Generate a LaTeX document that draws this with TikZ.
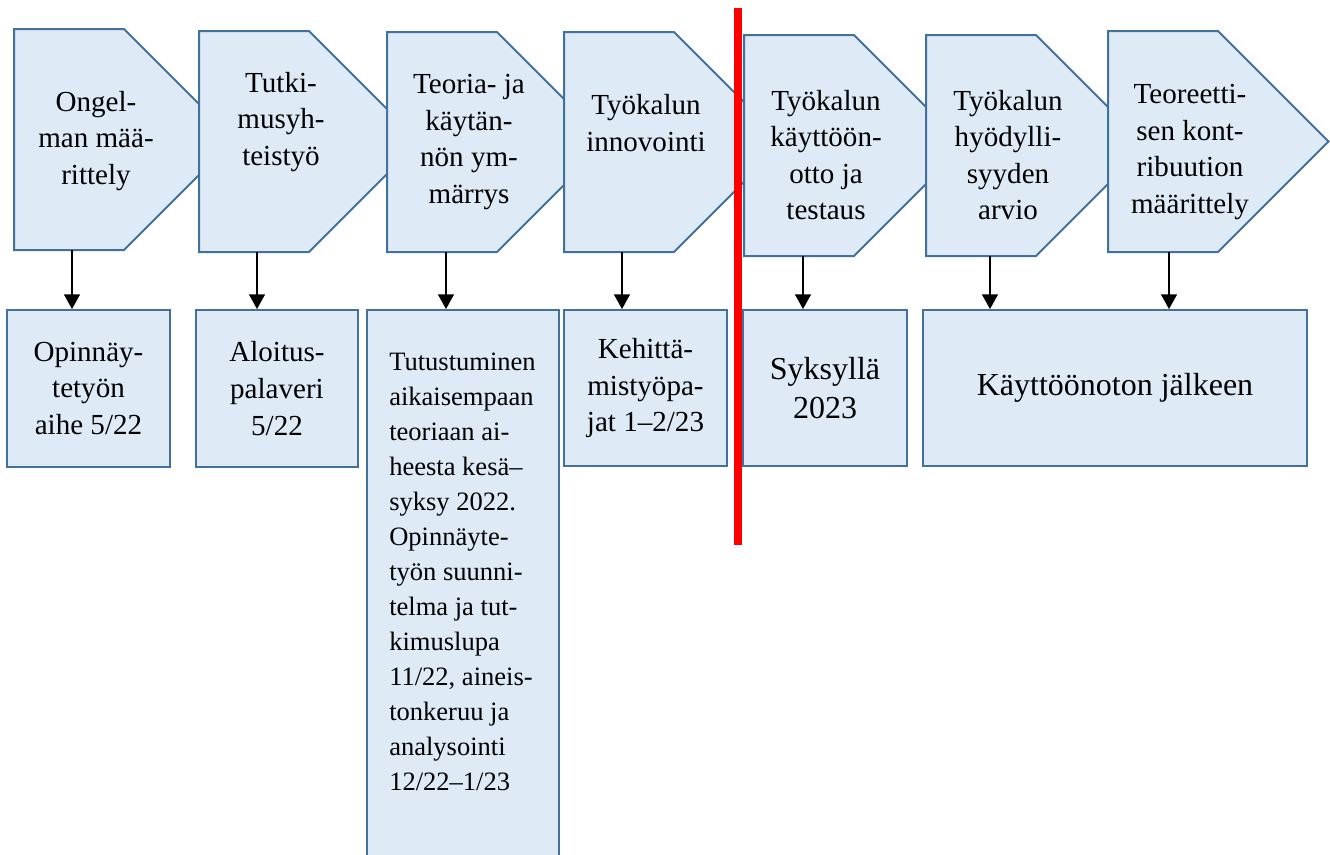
\documentclass[tikz,border=0pt]{standalone}
\usepackage{fontspec}
\setmainfont{Liberation Serif}
\usetikzlibrary{arrows.meta}
\definecolor{shfill}{HTML}{DEEBF7}
\definecolor{shdraw}{HTML}{41719C}
\definecolor{cutred}{HTML}{FF0000}
\newcommand\chev[4]{%
  \path[stepshape] (#2,#3) -- ({#2+110},#3) -- ({#2+110+(#4-#3)/2},{(#3+#4)/2}) -- ({#2+110},#4) -- (#2,#4) -- cycle;}
\newcommand\pxbox[7]{%
  \node[boxnode,minimum width={(#4-#2)*0.75pt},minimum height={(#5-#3)*0.75pt},#6] (#1) at ({(#2+#4)/2},{(#3+#5)/2}) {#7};}
\begin{document}
\begin{tikzpicture}[x=0.75pt,y=-0.75pt,
  stepshape/.style={fill=shfill,draw=shdraw,line width=1.5pt,line join=miter},
  boxnode/.style={rectangle,fill=shfill,draw=shdraw,line width=1.5pt,inner sep=0pt,align=center,font=\fontsize{21.8}{27.6}\selectfont},
  bigtext/.style={font=\fontsize{24}{29.3}\selectfont},
  shtext/.style={align=center,font=\fontsize{21.8}{27.4}\selectfont,inner sep=0pt},
  longtext/.style={align=left,font=\fontsize{19.9}{26.25}\selectfont,inner sep=0pt,anchor=north west},
  arr/.style={line width=1pt,-{Triangle[width=12pt,length=11pt]}},
  cutline/.style={draw=cutred,line width=6pt}
]
\useasboundingbox (0,0) rectangle (1330,854);
\clip (0,0) rectangle (1330,854);
% step shapes
\chev{c1}{14}{29}{250}
\chev{c2}{199}{31}{252}
\chev{c3}{387}{32}{252}
\chev{c4}{564}{32}{252}
\chev{c5}{744}{35}{256}
\chev{c6}{926}{35}{256}
\chev{c7}{1108}{31}{252}
\node[shtext] (s1) at (96,141) {Ongel-\\man mää-\\rittely};
\node[shtext] (s2) at (281,122) {Tutki-\\musyh-\\teistyö};
\node[shtext] (s3) at (469,142) {Teoria- ja\\käytän-\\nön ym-\\märrys};
\node[shtext] (s4) at (646,123) {Työkalun\\innovointi};
\node[shtext] (s5) at (826,155) {Työkalun\\käyttöön-\\otto ja\\testaus};
\node[shtext] (s6) at (1008,155) {Työkalun\\hyödylli-\\syyden\\arvio};
\node[shtext] (s7) at (1190,152) {Teoreetti-\\sen kont-\\ribuution\\määrittely};
% boxes
\pxbox{b1}{7}{310}{170}{467}{}{Opinnäy-\\tetyön\\aihe 5/22}
\pxbox{b2}{196}{310}{358}{467}{}{Aloitus-\\palaveri\\5/22}
\pxbox{b3}{367}{310}{559}{880}{}{}
\pxbox{b4}{564}{310}{727}{466}{}{Kehittä-\\mistyöpa-\\jat 1–2/23}
\pxbox{b5}{743}{310}{907}{466}{bigtext}{Syksyllä\\2023}
\pxbox{b6}{923}{310}{1307}{466}{bigtext}{Käyttöönoton jälkeen}
\node[longtext] (t3) at (389,353) {Tutustuminen\\aikaisempaan\\teoriaan ai-\\heesta kesä–\\syksy 2022.\\Opinnäyte-\\työn suunni-\\telma ja tut-\\kimuslupa\\11/22, aineis-\\tonkeruu ja\\analysointi\\12/22–1/23};
% arrows
\coordinate (p1) at (72,250);
\coordinate (p2) at (257,252);
\coordinate (p3) at (446,252);
\coordinate (p4) at (622,252);
\coordinate (p5) at (803,256);
\coordinate (p6) at (990,256);
\coordinate (p7) at (1169,252);
\draw[arr] (p1) -- (p1 |- b1.north);
\draw[arr] (p2) -- (p2 |- b2.north);
\draw[arr] (p3) -- (p3 |- b3.north);
\draw[arr] (p4) -- (p4 |- b4.north);
\draw[arr] (p5) -- (p5 |- b5.north);
\draw[arr] (p6) -- (p6 |- b6.north);
\draw[arr] (p7) -- (p7 |- b6.north);
% red cut line
\coordinate (r1) at (738,8);
\coordinate (r2) at (738,545);
\draw[cutline] (r1) -- (r2);
\end{tikzpicture}
\end{document}
